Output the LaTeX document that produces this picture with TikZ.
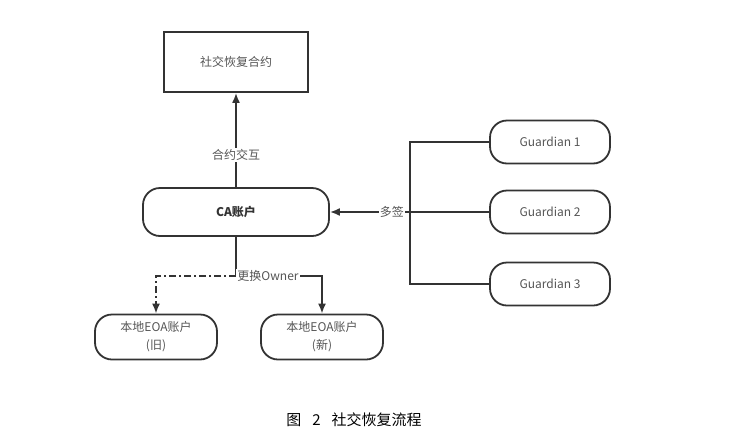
\documentclass[tikz,border=0pt]{standalone}
\usepackage{fontspec}
\setmainfont{Noto Sans CJK SC}
\usetikzlibrary{arrows.meta}
\definecolor{linegray}{HTML}{333333}
\definecolor{textgray}{HTML}{555555}
\begin{document}
\begin{tikzpicture}[x=1pt, y=-1pt,
  every node/.style={font=\fontsize{12}{18}\selectfont, text=textgray},
  box/.style={draw=linegray, line width=1.8pt, inner sep=0pt, align=center},
  rbox/.style={box, rounded corners=17pt},
  lbl/.style={fill=white, inner sep=1pt},
  conn/.style={draw=linegray, line width=1.8pt},
  arr/.style={conn, -{Latex[length=10pt, width=8pt]}}]
  \useasboundingbox (0,0) rectangle (734,445);
  \node[box, minimum width=144pt, minimum height=60pt] (contract) at (236,62) {社交恢复合约};
  \node[rbox, minimum width=186pt, minimum height=48pt, font=\fontsize{12}{18}\selectfont\bfseries, text=linegray] (ca) at (236,212) {CA账户};
  \node[rbox, minimum width=120pt, minimum height=43pt] (g1) at (550,142) {Guardian 1};
  \node[rbox, minimum width=120pt, minimum height=43pt] (g2) at (550,212) {Guardian 2};
  \node[rbox, minimum width=120pt, minimum height=43pt] (g3) at (550,284) {Guardian 3};
  \node[rbox, minimum width=122pt, minimum height=45pt] (old) at (156,337) {本地EOA账户\\(旧)};
  \node[rbox, minimum width=122pt, minimum height=45pt] (new) at (322,337) {本地EOA账户\\(新)};
  \coordinate (bus) at (410,212);
  \coordinate (split) at (236,276);
  % contract call
  \path[arr] (ca.north) -- (contract.south) node[lbl, pos=0.34] {合约交互};
  % guardians
  \path[conn] (g1.west) -| (bus) |- (g3.west);
  \path[arr] (g2.west) -- (ca.east) node[lbl, pos=0.61] {多签};
  % owner change
  \path[arr] (ca.south) -- (split) -| (new.north);
  \path[arr, dash pattern=on 7pt off 3pt on 2pt off 3pt] (split) -| (old.north);
  \node[lbl] (owner) at (268,276) {更换Owner};
  \node[font=\fontsize{15}{18}\selectfont, text=black] (caption) at (354,420) {图\hspace{11pt}2\hspace{11pt}社交恢复流程};
\end{tikzpicture}
\end{document}
